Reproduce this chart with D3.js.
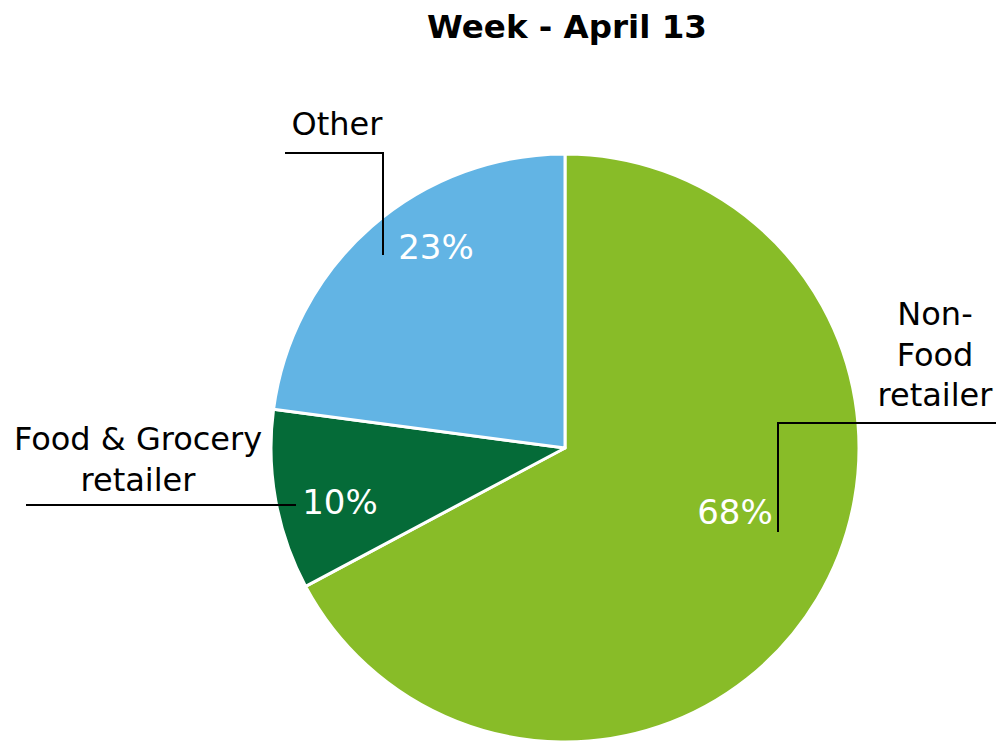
<!DOCTYPE html>
<html>
<head>
<meta charset="utf-8">
<script src="https://cdn.jsdelivr.net/npm/d3@7"></script>
<style>
  body { margin: 0; background: #fff; }
  text { font-family: "DejaVu Sans", Verdana, sans-serif; }
</style>
</head>
<body>
<div class="container"></div>
<script>
const categories = ["Non-Food retailer", "Food & Grocery retailer", "Other"]
const shares = [67.2, 9.9, 22.9]
const pctLabels = ["68%", "10%", "23%"]
const colors = ["#88bc28", "#056b38", "#62b4e4"]

// text placement (label lines, percent label spot, leader path)
const labelLayout = [
    {lines: ["Non-", "Food", "retailer"], x: 935, y: 325, px: 735, py: 524,
     leader: [[996, 423], [778, 423], [778, 532]]},
    {lines: ["Food & Grocery", "retailer"], x: 138, y: 450, px: 340, py: 514,
     leader: [[26, 505], [296, 505]]},
    {lines: ["Other"], x: 337, y: 135, px: 436, py: 259,
     leader: [[285, 153], [383, 153], [383, 255]]}
]

const width = 996, height = 742
const cx = 565, cy = 448, radius = 294

const svg = d3.select(".container").append("svg")
    .attr("width", width)
    .attr("height", height)

svg.append("text")
    .attr("x", 567)
    .attr("y", 38)
    .attr("text-anchor", "middle")
    .attr("font-size", 32.5)
    .attr("font-weight", "bold")
    .text("Week - April 13")

const pie = d3.pie().sort(null).value(d => d)
const arc = d3.arc().innerRadius(0).outerRadius(radius)

const g = svg.append("g").attr("transform", `translate(${cx},${cy})`)

g.selectAll("path")
    .data(pie(shares))
    .enter()
    .append("path")
    .attr("d", arc)
    .attr("fill", (d, i) => colors[i])
    .attr("stroke", "#fff")
    .attr("stroke-width", 3)
    .attr("stroke-linejoin", "round")

const line = d3.line()

labelLayout.forEach((lab, i) => {
    svg.append("path")
        .attr("d", line(lab.leader))
        .attr("fill", "none")
        .attr("stroke", "#000")
        .attr("stroke-width", 2)

    const t = svg.append("text")
        .attr("text-anchor", "middle")
        .attr("font-size", 32)
        .attr("fill", "#000")
    lab.lines.forEach((s, k) => {
        t.append("tspan").attr("x", lab.x).attr("y", lab.y + k * 40.5).text(s)
    })

    svg.append("text")
        .attr("x", lab.px)
        .attr("y", lab.py)
        .attr("text-anchor", "middle")
        .attr("font-size", 34)
        .attr("fill", "#fff")
        .text(pctLabels[i])
})
</script>
</body>
</html>
